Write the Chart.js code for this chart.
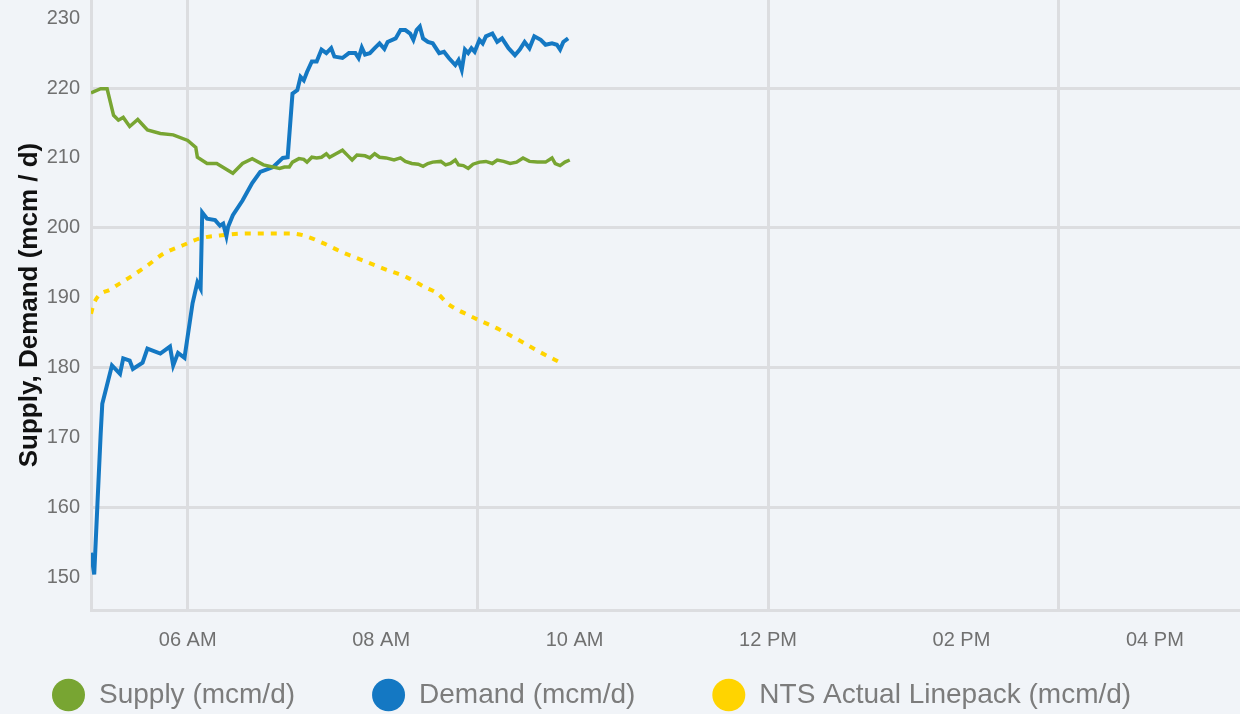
<!DOCTYPE html>
<html>
<head>
<meta charset="utf-8">
<script src="https://cdn.jsdelivr.net/npm/chart.js@4.4.1/dist/chart.umd.min.js"></script>
<style>
  html, body { margin: 0; padding: 0; background: #f1f4f8; overflow: hidden; }
  #wrap { width: 1240px; height: 714px; }
</style>
</head>
<body>
<div id="wrap"><canvas id="graph"></canvas></div>
<script>
"use strict";

const supplyTimes = [
  "05:00", "05:06", "05:10", "05:14", "05:17", "05:20", "05:24", "05:29", "05:35", "05:43",
  "05:51", "06:00", "06:05", "06:06", "06:12", "06:18", "06:28", "06:34", "06:40", "06:47",
  "06:57", "07:00", "07:03", "07:05", "07:09", "07:12", "07:14", "07:17", "07:20", "07:23",
  "07:26", "07:28", "07:32", "07:36", "07:39", "07:42", "07:45", "07:50", "07:53", "07:56",
  "07:59", "08:03", "08:08", "08:12", "08:15", "08:19", "08:23", "08:26", "08:29", "08:32",
  "08:37", "08:40", "08:43", "08:46", "08:48", "08:51", "08:54", "08:57", "09:01", "09:05",
  "09:09", "09:12", "09:16", "09:20", "09:24", "09:28", "09:32", "09:37", "09:42", "09:46",
  "09:48", "09:51", "09:54", "09:57",
];
const supplyValues = [
  219.3, 219.9, 219.9, 216.1, 215.4, 215.8, 214.5, 215.5, 214.0, 213.5,
  213.3, 212.5, 211.5, 210.1, 209.2, 209.2, 207.8, 209.2, 209.9, 209.0,
  208.5, 208.7, 208.7, 209.4, 209.9, 209.8, 209.4, 210.1, 210.0, 210.1,
  210.6, 210.1, 210.6, 211.1, 210.4, 209.7, 210.4, 210.3, 210.0, 210.6,
  210.1, 210.0, 209.7, 210.0, 209.5, 209.2, 209.1, 208.8, 209.2, 209.4,
  209.5, 209.0, 209.2, 209.7, 209.0, 208.9, 208.5, 209.1, 209.4, 209.5,
  209.2, 209.7, 209.5, 209.2, 209.4, 210.0, 209.5, 209.4, 209.4, 210.0,
  209.2, 208.9, 209.4, 209.7,
];

const demandTimes = [
  "05:00", "05:02", "05:04", "05:06", "05:07", "05:13", "05:18", "05:20", "05:24", "05:26",
  "05:32", "05:35", "05:43", "05:49", "05:51", "05:54", "05:58", "06:03", "06:06", "06:08",
  "06:09", "06:12", "06:17", "06:20", "06:22", "06:24", "06:25", "06:28", "06:34", "06:40",
  "06:45", "06:53", "06:59", "07:02", "07:05", "07:08", "07:10", "07:12", "07:14", "07:17",
  "07:20", "07:23", "07:26", "07:29", "07:31", "07:36", "07:40", "07:44", "07:46", "07:48",
  "07:50", "07:53", "07:56", "07:59", "08:02", "08:04", "08:09", "08:12", "08:15", "08:18",
  "08:20", "08:22", "08:24", "08:26", "08:29", "08:32", "08:36", "08:39", "08:42", "08:46",
  "08:48", "08:50", "08:52", "08:54", "08:56", "08:58", "09:01", "09:03", "09:05", "09:09",
  "09:12", "09:15", "09:19", "09:23", "09:26", "09:29", "09:32", "09:35", "09:39", "09:42",
  "09:46", "09:49", "09:51", "09:53", "09:56",
];
const demandValues = [
  153.5, 150.4, 160.5, 170.5, 174.8, 180.3, 179.1, 181.3, 181.0, 179.8,
  180.7, 182.7, 182.0, 183.0, 180.3, 182.1, 181.4, 189.2, 192.2, 191.3,
  202.2, 201.3, 201.1, 200.3, 200.6, 198.8, 200.1, 201.8, 203.9, 206.4,
  208.0, 208.7, 210.0, 210.1, 219.2, 219.7, 221.6, 221.1, 222.3, 223.8,
  223.8, 225.5, 225.0, 225.7, 224.5, 224.3, 225.0, 225.0, 224.3, 225.8,
  224.8, 225.0, 225.7, 226.4, 225.6, 226.6, 227.1, 228.3, 228.3, 227.8,
  226.9, 228.3, 228.8, 227.1, 226.6, 226.4, 225.0, 225.2, 224.3, 223.3,
  224.0, 222.6, 225.5, 225.0, 225.7, 225.2, 226.9, 226.4, 227.4, 227.8,
  226.6, 227.1, 225.7, 224.7, 225.5, 226.6, 225.7, 227.4, 226.9, 226.2,
  226.4, 226.2, 225.5, 226.6, 227.1,
];

const linepackTimes = [
  "05:00", "05:02", "05:13", "05:24", "05:35", "05:45", "05:57", "06:08", "06:20", "06:37",
  "07:03", "07:12", "07:24", "07:36", "07:49", "08:01", "08:16", "08:28", "08:35", "08:41",
  "08:55", "09:12", "09:24", "09:37", "09:53",
];
const linepackValues = [
  187.7, 189.3, 191.3, 192.9, 194.6, 196.3, 197.5, 198.5, 198.9, 199.2,
  199.2, 198.9, 197.8, 196.5, 195.3, 194.2, 192.9, 191.4, 190.6, 189.2,
  187.4, 185.6, 184.1, 182.4, 180.5,
];

const toHours = (t) => {
  const [h, m] = t.split(":").map(Number);
  return h + m / 60;
};
const pairs = (times, values) => times.map((t, i) => ({ x: toHours(t), y: values[i] }));

const gridColor = "#dcdde0";
const tickColor = "#707070";
const fontFamily = "'Liberation Sans', Arial, sans-serif";

// legend sits low and left of where Chart.js would centre it
const legendPlace = {
  id: "legendPlace",
  afterLayout(chart) {
    const pad = chart.legend.options.labels.padding;
    chart.legend.left = 52 - pad;
    chart.legend.top = 681 - pad;
  },
};

document.addEventListener("DOMContentLoaded", () => {
  const ctx = document.getElementById("graph").getContext("2d");
  new Chart(ctx, {
    type: "line",
    data: {
      datasets: [
        {
          label: "Supply (mcm/d)",
          data: pairs(supplyTimes, supplyValues),
          borderColor: "#78a532",
          backgroundColor: "#78a532",
          borderWidth: 3.5,
          pointRadius: 0,
          tension: 0,
        },
        {
          label: "Demand (mcm/d)",
          data: pairs(demandTimes, demandValues),
          borderColor: "#1478c3",
          backgroundColor: "#1478c3",
          borderWidth: 4,
          pointRadius: 0,
          tension: 0,
        },
        {
          label: "NTS Actual Linepack (mcm/d)",
          data: pairs(linepackTimes, linepackValues),
          borderColor: "#ffd400",
          backgroundColor: "#ffd400",
          borderWidth: 4,
          borderDash: [6, 7],
          pointRadius: 0,
          cubicInterpolationMode: "monotone",
        },
      ],
    },
    options: {
      responsive: true,
      maintainAspectRatio: false,
      animation: false,
      layout: { padding: 0 },
      scales: {
        x: {
          type: "linear",
          min: 5,
          max: 16.88,
          afterFit: (s) => {
            s.height = 50;
          },
          grid: {
            color: (c) => (c.tick && c.tick.value % 3 === 0 ? gridColor : "transparent"),
            lineWidth: 3,
            drawTicks: false,
          },
          border: { display: true, color: gridColor, width: 3 },
          ticks: {
            stepSize: 1,
            autoSkip: false,
            maxRotation: 0,
            includeBounds: false,
            padding: 18,
            color: tickColor,
            font: { family: fontFamily, size: 20 },
            callback: (v) => {
              if (v % 2 !== 0) return "";
              const h = v % 12 || 12;
              return String(h).padStart(2, "0") + (v < 12 ? " AM" : " PM");
            },
          },
        },
        y: {
          min: 145.3,
          max: 232.6,
          afterFit: (s) => {
            s.width = 91;
            s.paddingTop = 0;
            s.paddingBottom = 0;
          },
          grid: {
            color: (c) => (c.tick && c.tick.value % 20 === 0 ? gridColor : "transparent"),
            lineWidth: 3,
            drawTicks: false,
          },
          border: { display: true, color: gridColor, width: 3 },
          ticks: {
            stepSize: 10,
            includeBounds: false,
            padding: 11,
            color: tickColor,
            font: { family: fontFamily, size: 20 },
          },
          title: {
            display: true,
            text: "Supply, Demand (mcm / d)",
            color: "#111111",
            font: { family: fontFamily, size: 26, weight: "bold", lineHeight: 1 },
            padding: { top: 17, bottom: 0 },
          },
        },
      },
      plugins: {
        tooltip: { enabled: false },
        legend: {
          position: "bottom",
          align: "start",
          maxHeight: 54,
          labels: {
            usePointStyle: true,
            pointStyle: "circle",
            boxHeight: 23,
            pointStyleWidth: 33,
            padding: 77,
            color: "#7c7c7c",
            font: { family: fontFamily, size: 28 },
            generateLabels: (chart) =>
              Chart.defaults.plugins.legend.labels
                .generateLabels(chart)
                .map((l) => ({ ...l, lineWidth: 0, lineDash: [] })),
          },
        },
      },
    },
    plugins: [legendPlace],
  });
});
</script>
</body>
</html>
